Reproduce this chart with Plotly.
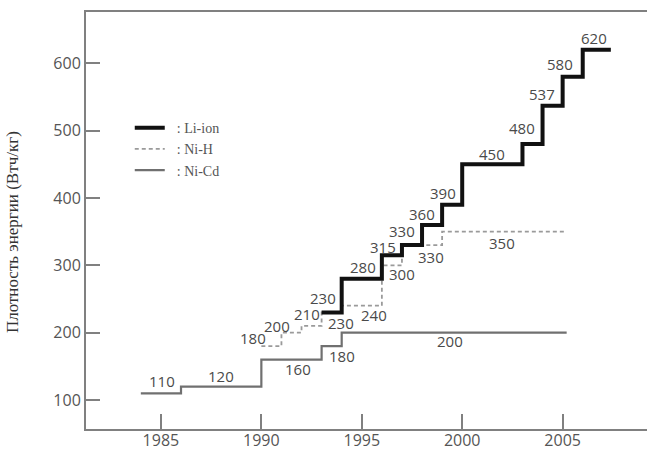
import plotly.graph_objects as go

# Energy density step series: start year of each step, level, and the year the last step ends
li_years = [1993, 1994, 1996, 1997, 1998, 1999, 2000, 2003, 2004, 2005, 2006]
li_values = [230, 280, 315, 330, 360, 390, 450, 480, 537, 580, 620]
li_end = 2007.4

nih_years = [1990, 1991, 1992, 1993, 1994, 1996, 1997, 1999]
nih_values = [180, 200, 210, 230, 240, 300, 330, 350]
nih_end = 2005.2

nicd_years = [1984, 1986, 1990, 1993, 1994]
nicd_values = [110, 120, 160, 180, 200]
nicd_end = 2005.2

x_ticks = [1985, 1990, 1995, 2000, 2005]
y_ticks = [100, 200, 300, 400, 500, 600]

# Pixel offsets of each value label relative to the start of its step
li_label_dx = [1, 21, 1, 0, 0, 1, 30, 0, -1, -3, 11]
li_label_dy = [14, 12, 8, 14, 11, 12, 10, 16, 12, 13, 12]
nih_label_dx = [-8, -4, 5, 19, 32, 20, 29, 60]
nih_label_dy = [8, 7, 12, -11, -9, -9, -12, -11]
nicd_label_dx = [21, 40, 37, 20, 108]
nicd_label_dy = [12, 11, -9, -10, -8]


def steps(years, values, end):
    return list(years) + [end], list(values) + [values[-1]]


fig = go.Figure()

pad = "\u00a0\u00a0"
x, y = steps(nicd_years, nicd_values, nicd_end)
fig.add_trace(go.Scatter(x=x, y=y, mode="lines", line_shape="hv", name=pad + ": Ni-Cd",
                         line=dict(color="#707070", width=2.2), legendrank=3))
x, y = steps(nih_years, nih_values, nih_end)
fig.add_trace(go.Scatter(x=x, y=y, mode="lines", line_shape="hv", name=pad + ": Ni-H",
                         line=dict(color="#9a9a9a", width=1.8, dash="4px,3px"), legendrank=2))
x, y = steps(li_years, li_values, li_end)
fig.add_trace(go.Scatter(x=x, y=y, mode="lines", line_shape="hv", name=pad + ": Li-ion",
                         line=dict(color="#111111", width=4), legendrank=1))

label_font = dict(family="Open Sans, sans-serif", size=15, color="#4a4a4a")
for years, values, dxs, dys in [
    (li_years, li_values, li_label_dx, li_label_dy),
    (nih_years, nih_values, nih_label_dx, nih_label_dy),
    (nicd_years, nicd_values, nicd_label_dx, nicd_label_dy),
]:
    for yr, v, dx, dy in zip(years, values, dxs, dys):
        fig.add_annotation(x=yr, y=v, text=str(v), showarrow=False,
                           xanchor="center", yanchor="middle",
                           xshift=dx, yshift=dy, font=label_font)

fig.add_annotation(xref="paper", yref="paper", x=-0.132, y=0.472,
                   text="Плотность энергии (Втч/кг)", textangle=-90, showarrow=False,
                   xanchor="center", yanchor="middle",
                   font=dict(family="Liberation Serif, serif", size=17, color="#333333"))

axis_common = dict(showgrid=False, zeroline=False, showline=True, linecolor="#808080",
                   linewidth=2, ticks="inside", tickcolor="#808080", tickwidth=2,
                   automargin=False,
                   tickfont=dict(family="Open Sans, sans-serif", size=16, color="#555555"))

fig.update_xaxes(range=[1981.27, 2009.2], tickvals=x_ticks, ticklen=15, mirror=True,
                 ticklabelstandoff=-4, **axis_common)
fig.update_yaxes(range=[57, 676], tickvals=y_ticks, ticklen=14, mirror=False,
                 **axis_common)

fig.update_layout(
    width=647, height=452,
    margin=dict(l=86, r=0, t=12, b=23),
    plot_bgcolor="white", paper_bgcolor="white",
    showlegend=True,
    legend=dict(x=0.078, y=0.76, xanchor="left", yanchor="top",
                bgcolor="rgba(0,0,0,0)",
                font=dict(family="Liberation Serif, serif", size=14, color="#555555")),
)

fig.write_html("out.html")
